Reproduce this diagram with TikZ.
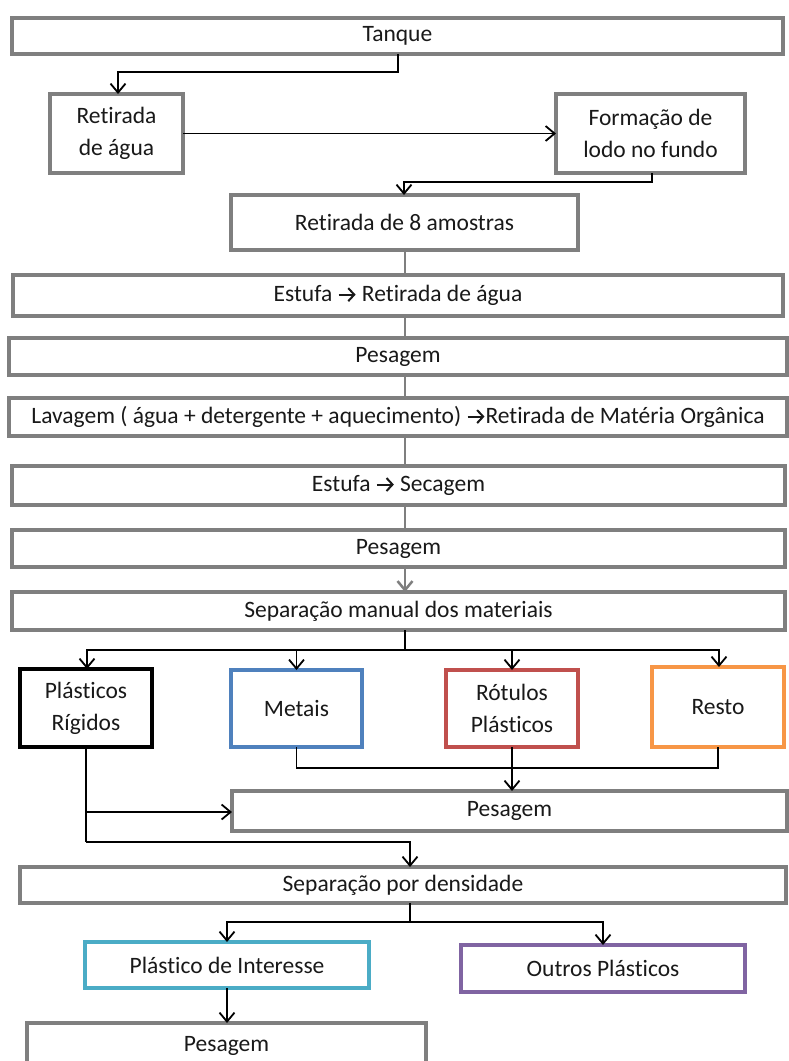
\documentclass[tikz,border=0pt]{standalone}
\usepackage{fontspec}
\setmainfont{Carlito}[Ligatures=NoCommon]
\usetikzlibrary{arrows.meta}
\definecolor{boxgray}{RGB}{127,127,127}
\definecolor{cblue}{RGB}{79,129,189}
\definecolor{cred}{RGB}{192,80,77}
\definecolor{corange}{RGB}{247,150,70}
\definecolor{cteal}{RGB}{75,172,198}
\definecolor{cpurple}{RGB}{128,100,162}
% small inline arrow used inside the box texts
\newcommand{\ra}{\tikz[x=1pt,y=1pt,baseline=-7pt]\draw[line width=2pt,line cap=butt,-{Straight Barb[length=6pt,width=13pt,line width=2pt]}] (0,0) -- (17,0);}
\tikzset{
  box/.style={draw=boxgray, line width=3.5pt, fill=white, rectangle, inner sep=0pt, outer sep=0pt,
    align=center, font=\fontsize{23.5}{32}\selectfont, text=black!90},
  link/.style={line width=1.8pt, black},
  glink/.style={line width=2.5pt, boxgray},
  tip/.style={-{Straight Barb[length=9pt,width=15pt,line width=1.8pt]}},
  gtip/.style={-{Straight Barb[length=9pt,width=15pt,line width=2.5pt]}},
}
\begin{document}
\begin{tikzpicture}[x=1pt,y=-1pt]
\useasboundingbox (0,0) rectangle (789,1061);
\clip (0,0) rectangle (789,1061);

% process boxes
\node[box, minimum width=771, minimum height=36] (tanque) at (397.5,36) {Tanque};
\node[box, minimum width=133, minimum height=79] (retag) at (116.5,133.5) {Retirada\\de água};
\node[box, minimum width=189, minimum height=79] (lodo) at (650.5,133.5) {Formação de\\lodo no fundo};
\node[box, minimum width=347, minimum height=55] (amostras) at (404.5,222.5) {Retirada de 8 amostras};
\node[box, minimum width=770, minimum height=41] (estufa1) at (398,295.5) {Estufa \ra\ Retirada de água};
\node[box, minimum width=778, minimum height=37] (pesa1) at (398,356.5) {Pesagem};
\node[box, minimum width=778, minimum height=38] (lavagem) at (398,417) {Lavagem ( água + detergente + aquecimento) \ra Retirada de Matéria Orgânica};
\node[box, minimum width=773, minimum height=39] (estufa2) at (398.5,485.5) {Estufa \ra\ Secagem};
\node[box, minimum width=773, minimum height=37] (pesa2) at (398.5,548.5) {Pesagem};
\node[box, minimum width=773, minimum height=38] (manual) at (398.5,611) {Separação manual dos materiais};

% sorted material boxes
\node[box, draw=black, minimum width=132, minimum height=78] (rigidos) at (86,708) {Plásticos\\Rígidos};
\node[box, draw=cblue, minimum width=131, minimum height=77] (metais) at (296.5,708.5) {Metais};
\node[box, draw=cred, minimum width=132, minimum height=77] (rotulos) at (512,708.5) {Rótulos\\Plásticos};
\node[box, draw=corange, minimum width=132, minimum height=80] (resto) at (718,707) {Resto};

\node[box, minimum width=555, minimum height=40] (pesa3) at (509.5,811) {Pesagem};
\node[box, minimum width=766, minimum height=36] (densidade) at (403,885) {Separação por densidade};
\node[box, draw=cteal, minimum width=284, minimum height=46] (interesse) at (227,965) {Plástico de Interesse};
\node[box, draw=cpurple, minimum width=284, minimum height=47] (outros) at (603,968.5) {Outros Plásticos};
\node[box, minimum width=399, minimum height=46] (pesa4) at (226.5,1046) {Pesagem};

% bend points
\coordinate (t1) at (398,72);
\coordinate (t2) at (118,72);
\coordinate (l1) at (652,182);
\coordinate (l2) at (404,182);
\coordinate (m0) at (405,650);
\coordinate (rl) at (0,768);
\coordinate (rk) at (86,812);
\coordinate (rb) at (86,842);
\coordinate (rc) at (410,842);
\coordinate (d0) at (410,922);
\coordinate (dl) at (227,922);
\coordinate (dr) at (603,922);

% connectors
\draw[link, tip] (tanque.south -| t1) |- (t2) -- (t2 |- retag.north);
\draw[link, tip] (retag.east) -- (lodo.west);
\draw[link, tip] (lodo.south -| l1) |- (l2) -- (l2 |- amostras.north);

\draw[glink] (amostras.south -| m0) -- (m0 |- estufa1.north);
\draw[glink] (estufa1.south -| m0) -- (m0 |- pesa1.north);
\draw[glink] (pesa1.south -| m0) -- (m0 |- lavagem.north);
\draw[glink] (lavagem.south -| m0) -- (m0 |- estufa2.north);
\draw[glink] (estufa2.south -| m0) -- (m0 |- pesa2.north);
\draw[glink, gtip] (pesa2.south -| m0) -- (m0 |- manual.north);

\draw[link] (manual.south -| m0) -- (m0);
\draw[link, tip] (m0) -| (rigidos.north -| 87,0);
\draw[link, tip] (m0) -| (metais.north);
\draw[link, tip] (m0) -| (rotulos.north);
\draw[link, tip] (m0) -| (resto.north -| 719,0);

\draw[link] (metais.south) |- (rl -| resto.south) -- (resto.south);
\draw[link, tip] (rotulos.south) -- (rotulos.south |- pesa3.north);

\draw[link] (rigidos.south -| rk) -- (rb);
\draw[link, tip] (rk) -- (pesa3.west |- rk);
\draw[link, tip] (rb) -- (rc) -- (rc |- densidade.north);

\draw[link] (densidade.south -| d0) -- (d0);
\draw[link, tip] (d0) -| (interesse.north -| dl);
\draw[link, tip] (d0) -| (outros.north -| dr);
\draw[link, tip] (interesse.south -| dl) -- (dl |- pesa4.north);
\end{tikzpicture}
\end{document}
